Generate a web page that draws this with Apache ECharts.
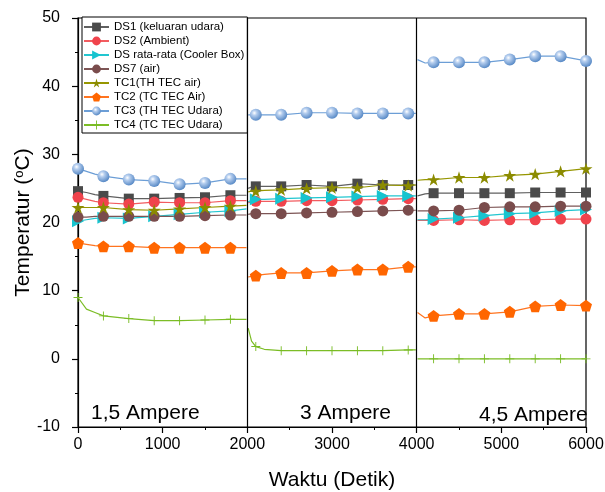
<!DOCTYPE html>
<html>
<head>
<meta charset="utf-8">
<script src="https://cdn.jsdelivr.net/npm/echarts@6/dist/echarts.min.js"></script>
<style>
  html, body { margin: 0; padding: 0; background: #fff; }
  #chart { width: 605px; height: 492px; }
</style>
</head>
<body>
<div id="chart"></div>
<script>
// waktu sampel (detik) per segmen arus
const waktu = [
  0, 100, 200, 300, 600, 900, 1200, 1500, 1800, 1990,
  2010, 2050, 2100, 2200, 2400, 2700, 3000, 3300, 3600, 3900, 3990,
  4010, 4100, 4200, 4500, 4800, 5100, 5400, 5700, 6000
];
// titik yang diberi simbol
const penanda = [0, 300, 600, 900, 1200, 1500, 1800, 2100, 2400, 2700, 3000, 3300, 3600, 3900,
  4200, 4500, 4800, 5100, 5400, 5700, 6000];
const batas = [2000, 4000];
const arus = ['1,5 Ampere', '3 Ampere', '4,5 Ampere'];

const ds1 = [
  24.6, 24.4, 24.1, 23.9, 23.5, 23.5, 23.6, 23.7, 24.0, 24.0,
  25.0, 25.2, 25.3, 25.3, 25.3, 25.5, 25.3, 25.7, 25.5, 25.5, 25.5,
  23.9, 24.2, 24.3, 24.3, 24.3, 24.3, 24.4, 24.4, 24.4
];
const ds2 = [
  23.7, 23.4, 23.1, 22.9, 22.7, 23.0, 22.9, 22.9, 23.2, 23.2,
  22.9, 23.0, 23.1, 23.1, 23.1, 23.2, 23.2, 23.3, 23.4, 23.5, 23.5,
  20.3, 20.3, 20.3, 20.4, 20.3, 20.4, 20.4, 20.5, 20.5
];
const dsRata = [
  20.2, 20.4, 20.6, 20.7, 20.6, 20.9, 21.2, 21.5, 21.7, 22.0,
  23.0, 23.3, 23.4, 23.4, 23.5, 23.6, 23.7, 23.8, 23.9, 23.9, 23.9,
  20.4, 20.4, 20.5, 20.7, 21.0, 21.3, 21.4, 21.7, 21.9
];
const ds7 = [
  20.8, 20.8, 20.9, 20.9, 20.9, 20.9, 20.9, 21.0, 21.1, 21.1,
  21.2, 21.3, 21.3, 21.3, 21.3, 21.4, 21.5, 21.6, 21.7, 21.8, 21.8,
  21.7, 21.7, 21.7, 21.8, 22.2, 22.3, 22.3, 22.4, 22.4
];
const tc1 = [
  22.2, 22.2, 22.2, 22.2, 21.9, 21.8, 22.0, 22.2, 22.4, 22.5,
  24.5, 24.6, 24.6, 24.7, 24.8, 25.0, 25.1, 25.1, 25.5, 25.4, 25.5,
  26.2, 26.3, 26.3, 26.6, 26.6, 26.9, 27.1, 27.5, 27.9
];
const tc2 = [
  17.0, 16.8, 16.6, 16.5, 16.5, 16.3, 16.3, 16.3, 16.3, 16.3,
  12.0, 12.1, 12.2, 12.4, 12.6, 12.6, 12.9, 13.1, 13.1, 13.5, 13.5,
  6.8, 6.0, 6.3, 6.6, 6.6, 6.9, 7.7, 7.9, 7.8
];
const tc3 = [
  27.9, 27.5, 27.1, 26.8, 26.3, 26.1, 25.6, 25.8, 26.4, 26.4,
  35.8, 35.8, 35.8, 35.8, 35.8, 36.1, 36.1, 36.0, 36.0, 36.0, 36.0,
  43.9, 43.4, 43.5, 43.5, 43.5, 43.9, 44.4, 44.4, 43.7
];
const tc4 = [
  9.0, 7.3, 6.8, 6.3, 5.9, 5.6, 5.6, 5.7, 5.8, 5.8,
  4.5, 2.6, 1.8, 1.4, 1.2, 1.2, 1.2, 1.2, 1.2, 1.3, 1.3,
  0, 0, 0, 0, 0, 0, 0, 0, 0
];

const starPath = 'path://M50,0L61,35L98,35L68,57L79,91L50,70L21,91L32,57L2,35L39,35Z';
const pentaPath = 'path://M50,0L98,36L80,95L20,95L2,36Z';
const triPath = 'path://M0,0L100,50L0,100Z';
const plusPath = 'path://M9,0H11V9H20V11H11V20H9V11H0V9H9Z';
const font = 'Liberation Sans, Arial, sans-serif';

const daftarSeri = [
  { name: 'DS1 (keluaran udara)', nilai: ds1, symbol: 'rect', size: 10, color: '#4a4a4a', line: '#606060' },
  { name: 'DS2 (Ambient)', nilai: ds2, symbol: 'circle', size: 11, color: '#f0434c', line: '#f25c60' },
  { name: 'DS rata-rata (Cooler Box)', nilai: dsRata, symbol: triPath, size: 12, color: '#17c4cf', line: '#22c6d0' },
  { name: 'DS7 (air)', nilai: ds7, symbol: 'circle', size: 11, color: '#7a4c4c', line: '#7d5555' },
  { name: 'TC1(TH TEC air)', nilai: tc1, symbol: starPath, size: 13, color: '#8b8b00', line: '#969600' },
  { name: 'TC2 (TC TEC Air)', nilai: tc2, symbol: pentaPath, size: 12, color: '#ff6600', line: '#ff7420' },
  { name: 'TC3 (TH TEC Udara)', nilai: tc3, symbol: 'circle', size: 12, line: '#6c9ed6',
    color: {
      type: 'radial', x: 0.38, y: 0.35, r: 0.7,
      colorStops: [
        { offset: 0, color: '#ffffff' },
        { offset: 0.3, color: '#b4cdee' },
        { offset: 1, color: '#4f83c2' }
      ]
    } },
  { name: 'TC4 (TC TEC Udara)', nilai: tc4, symbol: plusPath, size: 9, color: '#77bb22', line: '#7cbd26' }
];

function buatData(nilai) {
  let data = [];
  waktu.forEach((t, i) => {
    batas.forEach(b => {
      if (i > 0 && waktu[i - 1] < b && t > b) data.push([b, '-']);
    });
    let item = { value: [t, nilai[i]] };
    if (penanda.indexOf(t) < 0) item.symbol = 'none';
    data.push(item);
  });
  return data;
}

let series = daftarSeri.map((s, idx) => {
  let obj = {
    name: s.name,
    type: 'line',
    data: buatData(s.nilai),
    symbol: s.symbol,
    symbolSize: s.size,
    symbolKeepAspect: true,
    showAllSymbol: true,
    connectNulls: false,
    lineStyle: { color: s.line, width: 1.2 },
    itemStyle: { color: s.color },
    emphasis: { disabled: true },
    animation: false
  };
  if (idx === 0) {
    obj.markLine = {
      silent: true,
      symbol: 'none',
      label: { show: false },
      lineStyle: { color: '#000', width: 1.2, type: 'solid' },
      data: batas.map(b => ({ xAxis: b }))
    };
  }
  return obj;
});

let chart = echarts.init(document.getElementById('chart'));
chart.setOption({
  animation: false,
  grid: {
    left: 78, right: 19, top: 18, bottom: 65,
    outerBoundsMode: 'none',
    containLabel: false,
    show: true, borderColor: '#000', borderWidth: 1.2, backgroundColor: 'transparent'
  },
  legend: {
    orient: 'vertical',
    left: 82,
    top: 17,
    padding: [4, 3, 2, 1],
    itemGap: 2,
    itemWidth: 25,
    itemHeight: 11,
    backgroundColor: '#fff',
    borderColor: '#000',
    borderWidth: 1,
    borderRadius: 0,
    textStyle: { color: '#000', fontSize: 11.5, fontFamily: font, lineHeight: 11 },
    data: daftarSeri.map(s => s.name)
  },
  xAxis: {
    type: 'value',
    min: 0,
    max: 6000,
    interval: 1000,
    name: 'Waktu (Detik)',
    nameLocation: 'middle',
    nameGap: 43,
    nameMoveOverlap: false,
    nameTextStyle: { fontSize: 21, fontFamily: font, color: '#000' },
    axisLine: { show: true, onZero: false, lineStyle: { color: '#000', width: 1.2 } },
    axisTick: { show: true, inside: false, length: 6, lineStyle: { color: '#000', width: 1.2 } },
    minorTick: { show: true, splitNumber: 2, length: 3, lineStyle: { color: '#000' } },
    axisLabel: {
      fontSize: 16, fontFamily: font, color: '#000', margin: 10, showMaxLabel: true,
      formatter: v => String(v)
    },
    splitLine: { show: false }
  },
  yAxis: {
    type: 'value',
    min: -10,
    max: 50,
    interval: 10,
    name: 'Temperatur ({s|o}C)',
    nameLocation: 'middle',
    nameGap: 44,
    nameMoveOverlap: false,
    nameTextStyle: {
      fontSize: 21, fontFamily: font, color: '#000',
      rich: { s: { fontSize: 13, fontFamily: font, color: '#000', verticalAlign: 'top', lineHeight: 13 } }
    },
    axisLine: { show: true, onZero: false, lineStyle: { color: '#000', width: 1.2 } },
    axisTick: { show: true, inside: false, length: 6, lineStyle: { color: '#000', width: 1.2 } },
    minorTick: { show: true, splitNumber: 2, length: 3, lineStyle: { color: '#000' } },
    axisLabel: { fontSize: 16, fontFamily: font, color: '#000', margin: 18, formatter: v => String(v) },
    splitLine: { show: false }
  },
  graphic: [
    { type: 'text', left: 91, top: 403, style: { text: arus[0], font: '21px ' + font, fill: '#000' } },
    { type: 'text', left: 300, top: 403, style: { text: arus[1], font: '21px ' + font, fill: '#000' } },
    { type: 'text', left: 479, top: 405, style: { text: arus[2], font: '21px ' + font, fill: '#000' } }
  ],
  series: series
});
</script>
</body>
</html>
